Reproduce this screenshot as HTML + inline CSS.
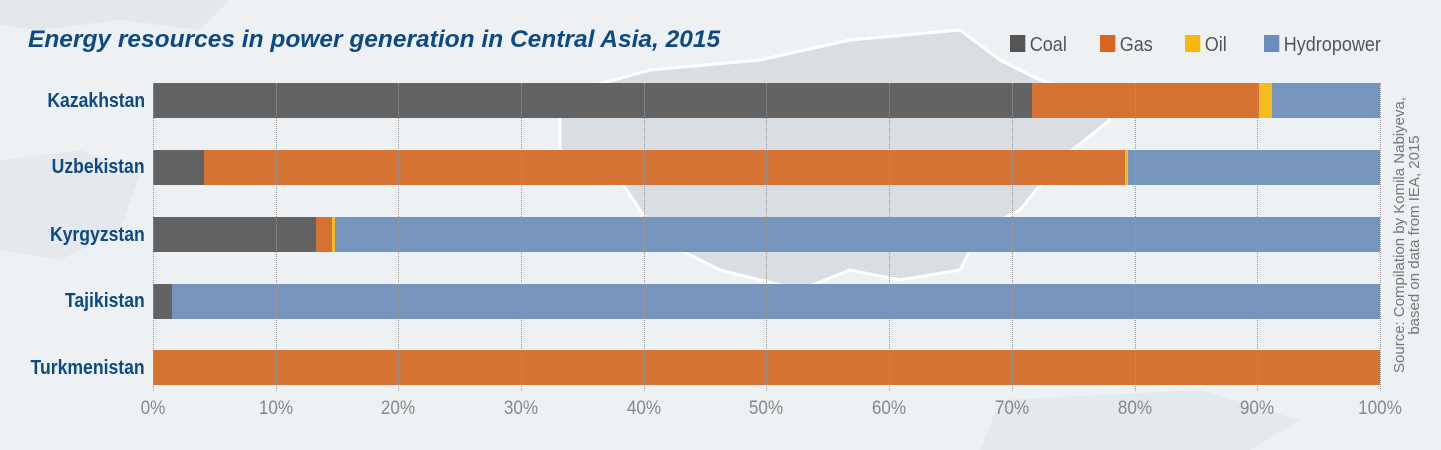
<!DOCTYPE html>
<html><head><meta charset="utf-8"><style>
body{margin:0;width:1441px;height:450px;overflow:hidden;background:#eef1f3;position:relative;font-family:"Liberation Sans Narrow","Liberation Sans",sans-serif}
.a{position:absolute}
.lab{position:absolute;right:1296px;font-weight:bold;color:#0d4a85;font-size:20px;line-height:20px;white-space:nowrap;transform:scaleX(0.88);transform-origin:right center}
.tk{position:absolute;top:398px;font-size:19px;color:#888;width:60px;text-align:center;margin-left:-30px;transform:scaleX(0.9)}
.g{position:absolute;top:83px;height:308px;border-left:1px dotted #999;width:0}
.bar{position:absolute;height:35px}
.c{background:#636363}.gs{background:#d57333}.o{background:#f4bc1c}.h{background:#7595bd}
.lg{position:absolute;top:34px;font-size:20px;color:#555;transform:scaleX(0.9);transform-origin:left center;white-space:nowrap}
.lg i{display:inline-block;width:17px;height:17px;vertical-align:-1px;margin-right:5px}
</style></head><body>
<svg class="a" style="left:0;top:0" width="1441" height="450">
<path d="M0,0 L230,0 L200,30 L120,20 L40,30 L0,25Z" fill="#e4e8ec"/>
<path d="M560,95 L650,70 L760,60 L850,40 L960,30 L1000,60 L1040,80 L1090,95 L1110,120 L1060,160 L1020,210 L980,230 L960,270 L900,280 L850,270 L800,290 L720,270 L660,240 L620,180 L560,150 Z" fill="#d9dee3" stroke="#fff" stroke-width="3"/>
<path d="M0,160 L80,150 L140,175 L120,230 L60,260 L0,250Z" fill="#e5e9ed"/>
<path d="M1000,400 L1200,390 L1300,420 L1250,450 L980,450Z" fill="#e5e9ed"/>
</svg>
<div class="a" style="left:28px;top:26px;font-family:'Liberation Sans',sans-serif;font-style:italic;font-weight:bold;color:#0d4a85;font-size:24.5px;white-space:nowrap">Energy resources in power generation in Central Asia, 2015</div>
<div class="lg" style="left:1010px"><i style="background:#555"></i>Coal</div>
<div class="lg" style="left:1100px"><i style="background:#d9661f"></i>Gas</div>
<div class="lg" style="left:1185px"><i style="background:#f7b80a"></i>Oil</div>
<div class="lg" style="left:1264px"><i style="background:#6a8dbd"></i>Hydropower</div>

<div class="bar c" style="left:153px;top:83px;width:879px"></div>
<div class="bar gs" style="left:1032px;top:83px;width:227px"></div>
<div class="bar o" style="left:1259px;top:83px;width:13px"></div>
<div class="bar h" style="left:1272px;top:83px;width:108px"></div>

<div class="bar c" style="left:153px;top:150px;width:51px"></div>
<div class="bar gs" style="left:204px;top:150px;width:921px"></div>
<div class="bar o" style="left:1125px;top:150px;width:3px"></div>
<div class="bar h" style="left:1128px;top:150px;width:252px"></div>

<div class="bar c" style="left:153px;top:217px;width:163px"></div>
<div class="bar gs" style="left:316px;top:217px;width:16px"></div>
<div class="bar o" style="left:332px;top:217px;width:3px"></div>
<div class="bar h" style="left:335px;top:217px;width:1045px"></div>

<div class="bar c" style="left:153px;top:284px;width:19px"></div>
<div class="bar h" style="left:172px;top:284px;width:1208px"></div>

<div class="bar gs" style="left:153px;top:350px;width:1227px"></div>

<div class="g" style="left:153px"></div><div class="g" style="left:276px"></div><div class="g" style="left:398px"></div><div class="g" style="left:521px"></div><div class="g" style="left:644px"></div><div class="g" style="left:766px"></div><div class="g" style="left:889px"></div><div class="g" style="left:1012px"></div><div class="g" style="left:1135px"></div><div class="g" style="left:1257px"></div><div class="g" style="left:1380px"></div>

<div class="lab" style="top:91px">Kazakhstan</div>
<div class="lab" style="top:157px">Uzbekistan</div>
<div class="lab" style="top:225px">Kyrgyzstan</div>
<div class="lab" style="top:291px">Tajikistan</div>
<div class="lab" style="top:358px">Turkmenistan</div>

<div class="tk" style="left:153px">0%</div><div class="tk" style="left:276px">10%</div><div class="tk" style="left:398px">20%</div><div class="tk" style="left:521px">30%</div><div class="tk" style="left:644px">40%</div><div class="tk" style="left:766px">50%</div><div class="tk" style="left:889px">60%</div><div class="tk" style="left:1012px">70%</div><div class="tk" style="left:1135px">80%</div><div class="tk" style="left:1257px">90%</div><div class="tk" style="left:1380px">100%</div>

<div class="a" style="left:1407px;top:240px;width:300px;margin-left:-150px;margin-top:-20px;transform:rotate(-90deg);font-size:15px;line-height:15px;color:#777;text-align:center">Source: Compilation by Komila Nabiyeva,<br>based on data from IEA, 2015</div>
</body></html>
